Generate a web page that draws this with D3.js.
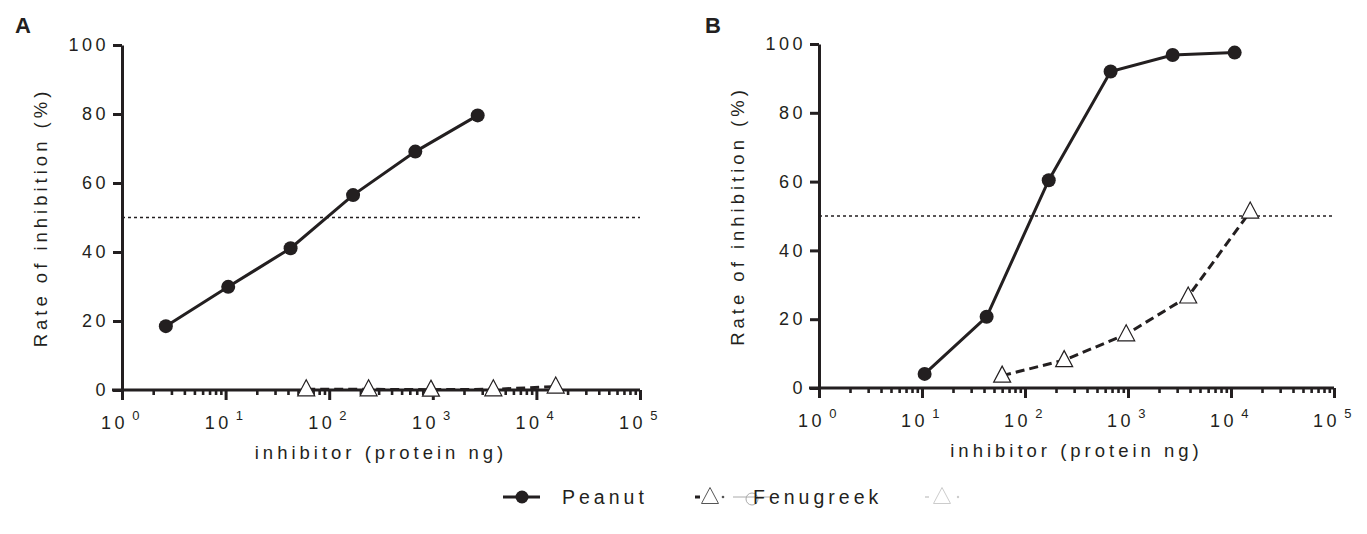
<!DOCTYPE html>
<html>
<head>
<meta charset="utf-8">
<script src="https://cdn.jsdelivr.net/npm/d3@7"></script>
<style>
  body { margin: 0; background: #fff; }
  svg { display: block; font-family: "Liberation Sans", Arial, sans-serif; }
</style>
</head>
<body>
<svg id="chart" width="1367" height="534"></svg>
<script>
// values
const yTicks = [0, 20, 40, 60, 80, 100];
const xTickExps = [0, 1, 2, 3, 4, 5];
const threshold = 50;

const peanutDoseA = [2.65, 10.6, 42.4, 170, 678, 2712];
const peanutA = [18.5, 29.9, 41.1, 56.5, 69.1, 79.6];
const fenugreekDoseA = [60, 240, 960, 3840, 15360];
const fenugreekA = [0.2, 0.2, 0.1, 0.2, 1.0];

const peanutDoseB = [10.6, 42.4, 170, 678, 2712, 10850];
const peanutB = [4.1, 20.7, 60.4, 92.0, 96.8, 97.5];
const fenugreekDoseB = [60, 240, 960, 3840, 15360];
const fenugreekB = [3.6, 8.1, 15.6, 26.6, 51.3];

const ink = "#231f20";
const svg = d3.select("#chart");

// layout of the two panels
const panels = [
  { label: "A", labelX: 15, left: 122, right: 640, top: 45, bottom: 390, titleX: 40,
    series: [
      { dose: peanutDoseA, val: peanutA, kind: "peanut" },
      { dose: fenugreekDoseA, val: fenugreekA, kind: "fenugreek" }
    ] },
  { label: "B", labelX: 705, left: 819, right: 1334, top: 44, bottom: 388, titleX: 737,
    series: [
      { dose: peanutDoseB, val: peanutB, kind: "peanut" },
      { dose: fenugreekDoseB, val: fenugreekB, kind: "fenugreek" }
    ] }
];

const minorTicks = [];
xTickExps.slice(0, -1).forEach(e => {
  for (let k = 2; k <= 9; k++) minorTicks.push(k * Math.pow(10, e));
});

const triPath = "M0,-9.5L8.5,6.5L-8.5,6.5Z";

function drawPanel(p) {
  const x = d3.scaleLog().domain([1, 1e5]).range([p.left, p.right]);
  const y = d3.scaleLinear().domain([0, 100]).range([p.bottom, p.top]);
  const g = svg.append("g");

  // panel letter
  g.append("text")
    .attr("x", p.labelX).attr("y", 33)
    .attr("font-size", 22).attr("font-weight", "bold").attr("fill", ink)
    .text(p.label);

  // y axis
  const yAxis = g.append("g")
    .attr("transform", `translate(${x(1)},0)`)
    .call(d3.axisLeft(y).tickValues(yTicks).tickSize(9).tickSizeOuter(0).tickPadding(4));
  yAxis.select(".domain").attr("stroke", ink).attr("stroke-width", 3);
  yAxis.selectAll(".tick line").attr("stroke", ink).attr("stroke-width", 3);
  yAxis.selectAll(".tick text")
    .attr("font-size", 18).attr("fill", ink)
    .attr("font-family", "Liberation Sans, Arial, sans-serif")
    .style("letter-spacing", "3.5px");

  // x axis: minor + major ticks, own baseline
  const xMinor = g.append("g")
    .attr("transform", `translate(0,${y(0)})`)
    .call(d3.axisBottom(x).tickValues(minorTicks).tickSize(5).tickSizeOuter(0).tickFormat(""));
  xMinor.select(".domain").remove();
  xMinor.selectAll(".tick line").attr("stroke", ink).attr("stroke-width", 2.6);

  const majors = xTickExps.map(e => Math.pow(10, e));
  const xMajor = g.append("g")
    .attr("transform", `translate(0,${y(0)})`)
    .call(d3.axisBottom(x).tickValues(majors).tickSize(10).tickSizeOuter(0).tickFormat(""));
  xMajor.select(".domain").remove();
  xMajor.selectAll(".tick line").attr("stroke", ink).attr("stroke-width", 3);

  g.append("line")
    .attr("x1", x(1) - 10).attr("x2", x(1e5))
    .attr("y1", y(0)).attr("y2", y(0))
    .attr("stroke", ink).attr("stroke-width", 3);

  const lbl = g.selectAll(".xlbl").data(xTickExps).enter()
    .append("text")
    .attr("class", "xlbl")
    .attr("x", d => x(Math.pow(10, d)))
    .attr("y", y(0) + 39)
    .attr("text-anchor", "middle")
    .attr("font-size", 18).attr("fill", ink)
    .style("letter-spacing", "3.5px");
  lbl.append("tspan").text("10");
  lbl.append("tspan").attr("dx", 4).attr("dy", -9).attr("font-size", 13).text(d => d);

  // axis titles
  g.append("text")
    .attr("x", (x(1) + x(1e5)) / 2).attr("y", y(0) + 69)
    .attr("text-anchor", "middle").attr("font-size", 18.5).attr("fill", ink)
    .style("letter-spacing", "4px")
    .text("inhibitor (protein ng)");

  g.append("text")
    .attr("transform", `translate(${p.titleX + 7},${(y(0) + y(100)) / 2}) rotate(-90)`)
    .attr("text-anchor", "middle").attr("font-size", 18.5).attr("fill", ink)
    .style("letter-spacing", "4px")
    .text("Rate of inhibition (%)");

  // 50% reference line
  g.append("line")
    .attr("x1", x(1)).attr("x2", x(1e5))
    .attr("y1", y(threshold)).attr("y2", y(threshold))
    .attr("stroke", ink).attr("stroke-width", 1.4)
    .attr("stroke-dasharray", "3,3");

  const line = d3.line().x(d => x(d[0])).y(d => y(d[1]));

  p.series.forEach(s => {
    const pts = d3.zip(s.dose, s.val);
    g.append("path")
      .datum(pts)
      .attr("d", line)
      .attr("fill", "none")
      .attr("stroke", ink)
      .attr("stroke-width", 3)
      .attr("stroke-dasharray", s.kind === "fenugreek" ? "9,5" : null);
  });

  p.series.forEach(s => {
    const pts = d3.zip(s.dose, s.val);
    if (s.kind === "peanut") {
      g.selectAll(null).data(pts).enter().append("circle")
        .attr("cx", d => x(d[0])).attr("cy", d => y(d[1]))
        .attr("r", 7).attr("fill", ink);
    } else {
      g.selectAll(null).data(pts).enter().append("path")
        .attr("transform", d => `translate(${x(d[0])},${y(d[1])})`)
        .attr("d", triPath)
        .attr("fill", "#fff").attr("stroke", ink).attr("stroke-width", 1.2);
    }
  });
}

panels.forEach(drawPanel);

// legend
const leg = svg.append("g").attr("transform", "translate(0,497)");
leg.append("line").attr("x1", 503).attr("x2", 540).attr("y1", 0).attr("y2", 0)
  .attr("stroke", ink).attr("stroke-width", 3);
leg.append("circle").attr("cx", 522).attr("cy", 0).attr("r", 6.5).attr("fill", ink);
leg.append("text").attr("x", 562).attr("y", 7).attr("font-size", 19.5).attr("fill", ink)
  .style("letter-spacing", "4px").text("Peanut");

leg.append("line").attr("x1", 695).attr("x2", 700).attr("y1", 0).attr("y2", 0)
  .attr("stroke", ink).attr("stroke-width", 3);
leg.append("path").attr("transform", "translate(710,0)").attr("d", triPath)
  .attr("fill", "#fff").attr("stroke", "#555").attr("stroke-width", 1);
leg.append("circle").attr("cx", 723).attr("cy", 0).attr("r", 1.3).attr("fill", "#555");
// faint leftover marks in the legend
leg.append("line").attr("x1", 733).attr("x2", 772).attr("y1", 0).attr("y2", 0)
  .attr("stroke", "#aaa").attr("stroke-width", 1);
leg.append("circle").attr("cx", 752).attr("cy", 2).attr("r", 6)
  .attr("fill", "none").attr("stroke", "#aaa").attr("stroke-width", 1);
leg.append("text").attr("x", 753).attr("y", 7).attr("font-size", 19.5).attr("fill", ink)
  .style("letter-spacing", "4px").text("Fenugreek");
leg.append("line").attr("x1", 925).attr("x2", 929).attr("y1", 0).attr("y2", 0)
  .attr("stroke", "#ccc").attr("stroke-width", 1.5);
leg.append("path").attr("transform", "translate(942,0)").attr("d", triPath)
  .attr("fill", "#fff").attr("stroke", "#ccc").attr("stroke-width", 1);
leg.append("circle").attr("cx", 958).attr("cy", 0).attr("r", 1.2).attr("fill", "#ccc");
</script>
</body>
</html>
